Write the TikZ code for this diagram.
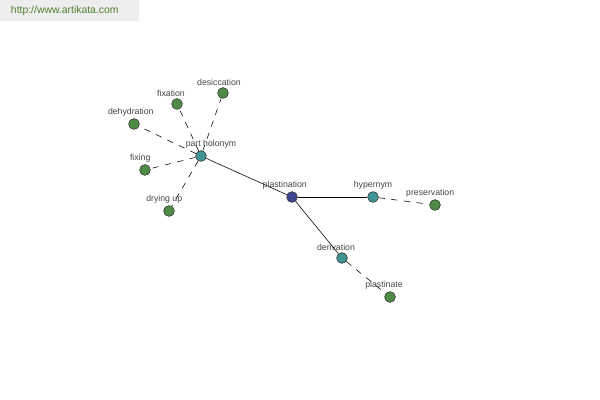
\documentclass[tikz,border=0pt]{standalone}
\usepackage{fontspec}
\setmainfont{Liberation Sans}
\usetikzlibrary{positioning,backgrounds}
\definecolor{leafgreen}{HTML}{4E8B45}
\definecolor{relteal}{HTML}{3F9393}
\definecolor{rootblue}{HTML}{3E4490}
\definecolor{labelgray}{HTML}{444444}
\definecolor{sitegreen}{HTML}{4F7F2F}
\tikzset{
  wnode/.style={circle, draw=black!80, thin, minimum size=0.27cm, inner sep=0pt},
  leaf/.style={wnode, fill=leafgreen},
  rel/.style={wnode, fill=relteal},
  root/.style={wnode, fill=rootblue},
  wlabel/.style={font=\fontsize{6.2}{7}\selectfont, text=labelgray, inner sep=1pt},
  link/.style={thin, black},
  dlink/.style={thin, black, dash pattern=on 4.5pt off 4.5pt}
}

\begin{document}
\begin{tikzpicture}[x=0.025cm, y=-0.025cm]
  \useasboundingbox (0,0) rectangle (600,400);
  \fill[black!7] (0,0) rectangle (139,21);
  \node[font=\fontsize{7.4}{8}\selectfont, text=sitegreen, anchor=west] (site) at (6,11) {http://www.artikata.com};

  % word nodes
  \node[root] (plastination) at (292,197) {};
  \node[rel] (holonym) at (201,156) {};
  \node[rel] (hypernym) at (373,197) {};
  \node[rel] (derivation) at (342,258) {};
  \node[leaf] (preservation) at (435,205) {};
  \node[leaf] (plastinate) at (390,297) {};
  \node[leaf] (desiccation) at (223,93) {};
  \node[leaf] (fixation) at (177,104) {};
  \node[leaf] (dehydration) at (134,124) {};
  \node[leaf] (fixing) at (145,170) {};
  \node[leaf] (dryingup) at (169,211) {};

  % connectors
  \begin{scope}[on background layer]
    \draw[link] (plastination) -- (holonym);
    \draw[link] (plastination) -- (hypernym);
    \draw[link] (plastination) -- (derivation);
    \draw[dlink] (hypernym) -- (preservation);
    \draw[dlink] (derivation) -- (plastinate);
    \foreach \w in {desiccation,fixation,dehydration,fixing,dryingup}
      \draw[dlink] (holonym) -- (\w);
  \end{scope}

  % labels
  \node[wlabel, above=0pt of plastination, xshift=-0.18cm] (plastinationlbl) {plastination};
  \node[wlabel, above=0pt of holonym, xshift=0.25cm] (holonymlbl) {part holonym};
  \node[wlabel, above=0pt of hypernym] (hypernymlbl) {hypernym};
  \node[wlabel, above=0pt of derivation, xshift=-0.15cm] (derivationlbl) {derivation};
  \node[wlabel, above=0pt of preservation, xshift=-0.12cm] (preservationlbl) {preservation};
  \node[wlabel, above=0pt of plastinate, xshift=-0.15cm] (plastinatelbl) {plastinate};
  \node[wlabel, above=0pt of desiccation, xshift=-0.1cm] (desiccationlbl) {desiccation};
  \node[wlabel, above=0pt of fixation, xshift=-0.15cm] (fixationlbl) {fixation};
  \node[wlabel, above=0pt of dehydration, xshift=-0.08cm] (dehydrationlbl) {dehydration};
  \node[wlabel, above=0pt of fixing, xshift=-0.12cm] (fixinglbl) {fixing};
  \node[wlabel, above=0pt of dryingup, xshift=-0.12cm] (dryinguplbl) {drying up};
\end{tikzpicture}
\end{document}
